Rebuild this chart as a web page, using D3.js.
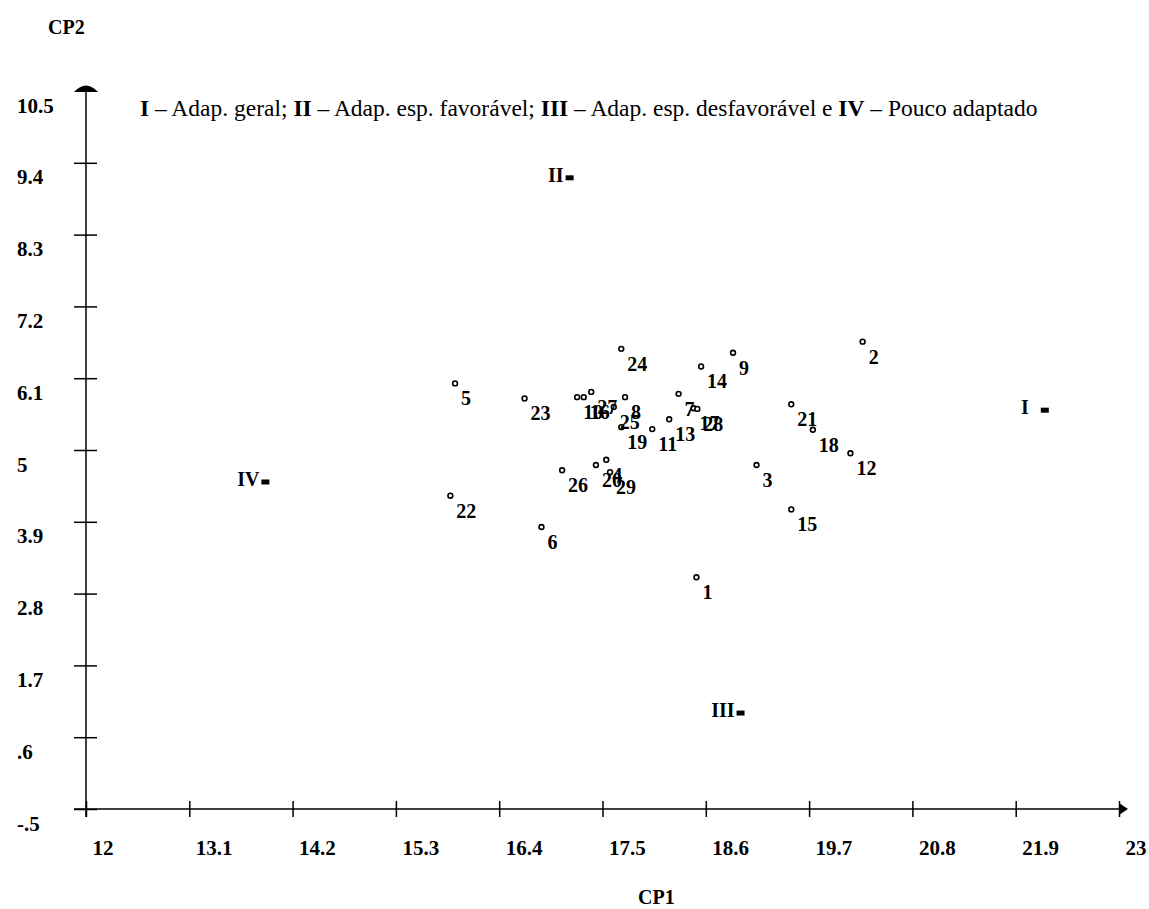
<!DOCTYPE html>
<html>
<head>
<meta charset="utf-8">
<script src="https://cdn.jsdelivr.net/npm/d3@7"></script>
<style>
  body { margin: 0; background: #fff; }
  .tk text, .lbl, .axt, .quad { font-family: "Liberation Serif", "Times New Roman", serif; font-weight: bold; fill: #000; }
  .legend { font-family: "Liberation Serif", "Times New Roman", serif; fill: #000; }
</style>
</head>
<body>
<div id="chart"></div>
<script>
// genotypes, CP1 and CP2 scores
const ids = [1, 2, 3, 4, 5, 6, 7, 8, 9, 10, 11, 12, 13, 14, 15, 16, 17, 18, 19, 20, 21, 22, 23, 24, 25, 26, 27, 28, 29];
const cp1 = [18.50, 20.27, 19.14, 17.54, 15.93, 16.85, 18.31, 17.74, 18.89, 17.23, 18.03, 20.14, 18.21, 18.55, 19.51,
             17.30, 18.47, 19.74, 17.70, 17.43, 19.51, 15.88, 16.67, 17.70, 17.62, 17.07, 17.38, 18.51, 17.58];
const cp2 = [3.05, 6.66, 4.77, 4.85, 6.02, 3.82, 5.86, 5.81, 6.49, 5.81, 5.32, 4.95, 5.47, 6.28, 4.09,
             5.81, 5.64, 5.31, 5.35, 4.77, 5.70, 4.30, 5.79, 6.55, 5.66, 4.69, 5.89, 5.63, 4.66];

// quadrant reference points
const quadLabels = ["I", "II", "III", "IV"];
const quadX = [22.21, 17.15, 18.97, 13.91];
const quadY = [5.61, 9.17, 0.97, 4.51];

const xTicks = [12, 13.1, 14.2, 15.3, 16.4, 17.5, 18.6, 19.7, 20.8, 21.9, 23];
const xTickLabels = ["12", "13.1", "14.2", "15.3", "16.4", "17.5", "18.6", "19.7", "20.8", "21.9", "23"];
const yTicks = [10.5, 9.4, 8.3, 7.2, 6.1, 5, 3.9, 2.8, 1.7, 0.6, -0.5];
const yTickLabels = ["10.5", "9.4", "8.3", "7.2", "6.1", "5", "3.9", "2.8", "1.7", ".6", "-.5"];

const width = 1149, height = 909;

const svg = d3.select("#chart").append("svg")
  .attr("width", width)
  .attr("height", height);

const x = d3.scaleLinear().domain([12, 23]).range([86, 1119]);
const y = d3.scaleLinear().domain([-0.5, 10.5]).range([809, 91]);

// x axis
const xAxis = d3.axisBottom(x)
  .tickValues(xTicks)
  .tickFormat((d, i) => xTickLabels[i]);

const gx = svg.append("g")
  .attr("class", "tk")
  .attr("transform", "translate(0," + y(-0.5) + ")")
  .call(xAxis);
gx.select(".domain").remove();
gx.selectAll(".tick line").attr("y1", -8).attr("y2", 8).attr("stroke", "#000").attr("stroke-width", 1.5);
gx.selectAll(".tick text")
  .attr("text-anchor", "start")
  .attr("x", 6).attr("y", 46).attr("dy", null)
  .style("font-size", "21px");

// y axis
const yAxis = d3.axisLeft(y)
  .tickValues(yTicks)
  .tickFormat((d, i) => yTickLabels[i]);

const gy = svg.append("g")
  .attr("class", "tk")
  .attr("transform", "translate(" + x(12) + ",0)")
  .call(yAxis);
gy.select(".domain").remove();
gy.selectAll(".tick line").attr("x1", -12).attr("x2", 11).attr("stroke", "#000").attr("stroke-width", 1.5);
gy.selectAll(".tick").filter((d) => d === 10.5).select("line").remove();
gy.selectAll(".tick text")
  .attr("text-anchor", "start")
  .attr("x", -69).attr("y", 21).attr("dy", null)
  .style("font-size", "21px");

// axis lines with arrows
svg.append("line")
  .attr("x1", x(12) - 12).attr("x2", x(23))
  .attr("y1", y(-0.5)).attr("y2", y(-0.5))
  .attr("stroke", "#000").attr("stroke-width", 1.5);
svg.append("line")
  .attr("x1", x(12)).attr("x2", x(12))
  .attr("y1", y(10.5)).attr("y2", y(-0.5) + 8)
  .attr("stroke", "#000").attr("stroke-width", 1.5);
svg.append("path")
  .attr("d", "M" + x(23) + "," + (y(-0.5) - 6) + " L" + (x(23) + 9) + "," + y(-0.5) + " L" + x(23) + "," + (y(-0.5) + 6) + " Z")
  .attr("fill", "#000");
svg.append("path")
  .attr("d", "M" + (x(12) - 12) + "," + (y(10.5) + 1) + " Q" + x(12) + "," + (y(10.5) - 12) + " " + (x(12) + 12) + "," + (y(10.5) + 1) + " Z")
  .attr("fill", "#000");

// axis titles
svg.append("text").attr("class", "axt")
  .attr("x", 48).attr("y", 34)
  .style("font-size", "20px")
  .text("CP2");
svg.append("text").attr("class", "axt")
  .attr("x", 638).attr("y", 904)
  .style("font-size", "20px")
  .text("CP1");

// legend line
const legend = svg.append("text").attr("class", "legend")
  .attr("x", 140).attr("y", 116)
  .style("font-size", "23.5px");
const parts = [["I", true], [" – Adap. geral; ", false], ["II", true], [" – Adap. esp. favorável; ", false],
               ["III", true], [" – Adap. esp. desfavorável e ", false], ["IV", true], [" – Pouco adaptado", false]];
parts.forEach((p) => {
  legend.append("tspan")
    .style("font-weight", p[1] ? "bold" : "normal")
    .style("white-space", "pre")
    .text(p[0]);
});

// genotype points
const pts = ids.map((d, i) => ({ id: d, cp1: cp1[i], cp2: cp2[i] }));

svg.selectAll("circle.pt")
  .data(pts)
  .enter()
  .append("circle")
  .attr("class", "pt")
  .attr("cx", (d) => x(d.cp1))
  .attr("cy", (d) => y(d.cp2))
  .attr("r", 2.4)
  .attr("fill", "#fff")
  .attr("stroke", "#000")
  .attr("stroke-width", 1.6);

svg.selectAll("text.lbl")
  .data(pts)
  .enter()
  .append("text")
  .attr("class", "lbl")
  .attr("x", (d) => x(d.cp1) + 6)
  .attr("y", (d) => y(d.cp2) + 22)
  .style("font-size", "20px")
  .text((d) => d.id);

// quadrant markers
const quads = quadLabels.map((d, i) => ({ label: d, cp1: quadX[i], cp2: quadY[i] }));

svg.selectAll("rect.q")
  .data(quads)
  .enter()
  .append("rect")
  .attr("class", "q")
  .attr("x", (d) => x(d.cp1) - 4)
  .attr("y", (d) => y(d.cp2) - 2.5)
  .attr("width", 8)
  .attr("height", 5)
  .attr("fill", "#000");

// "I" sits a little further from its marker than the others
svg.selectAll("text.quad")
  .data(quads)
  .enter()
  .append("text")
  .attr("class", "quad")
  .attr("x", (d) => x(d.cp1) - (d.label === "I" ? 16 : 6))
  .attr("y", (d) => y(d.cp2) + 4)
  .attr("text-anchor", "end")
  .style("font-size", "20px")
  .text((d) => d.label);
</script>
</body>
</html>
